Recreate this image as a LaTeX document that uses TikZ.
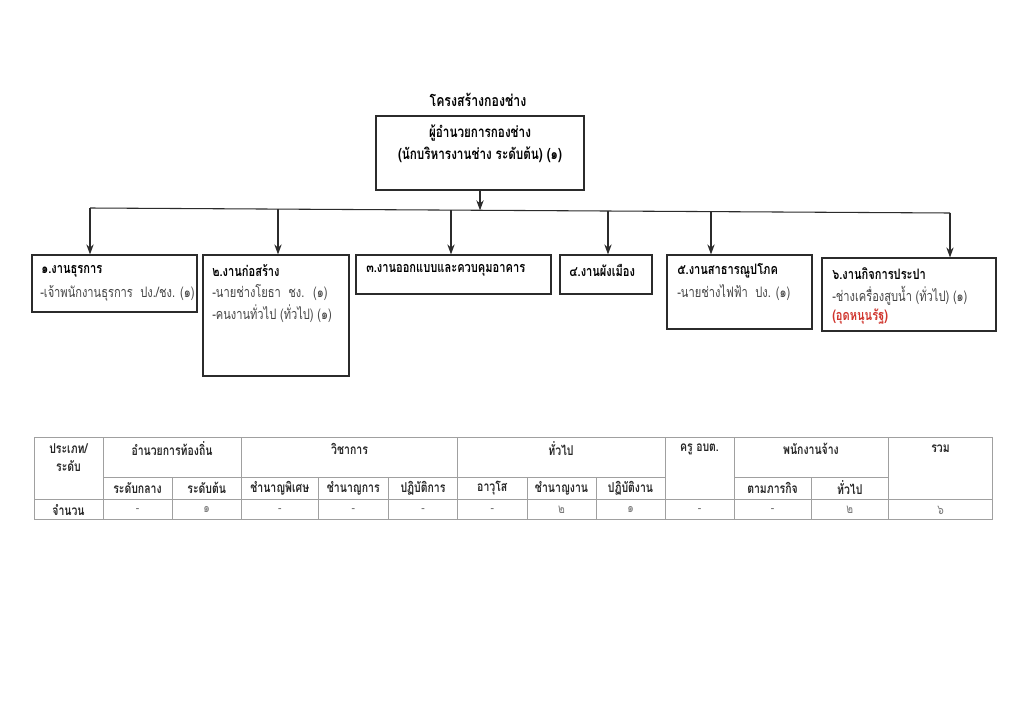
\documentclass[tikz,border=0pt]{standalone}
\usepackage{fontspec}
\setmainfont[Script=Thai, FakeStretch=0.77]{Loma}
\usetikzlibrary{arrows.meta,fit}
\definecolor{boxline}{HTML}{2B2B2B}
\definecolor{itemgray}{HTML}{444444}
\definecolor{tabline}{HTML}{A0A0A0}
\definecolor{valgray}{HTML}{7A7A7A}
\definecolor{redtxt}{HTML}{D0342C}
\tikzset{
  orgbox/.style={draw=boxline, line width=0.9pt, inner sep=0pt},
  arr/.style={draw=boxline, line width=0.8pt, -{Stealth[length=7.5pt,width=5.5pt]}},
  head/.style={font=\fontsize{10.8}{13}\selectfont\bfseries, anchor=west, inner sep=0pt},
  item/.style={font=\fontsize{10.8}{13}\selectfont, text=itemgray, anchor=west, inner sep=0pt},
  th/.style={font=\fontsize{10.2}{12}\selectfont\bfseries, text=black!85, inner sep=0pt},
  tv/.style={font=\fontsize{10}{12}\selectfont, text=valgray, inner sep=0pt},
  tl/.style={draw=tabline, line width=0.6pt}
}
\begin{document}
\begin{tikzpicture}[x=0.75pt,y=-0.75pt]
\path[use as bounding box, fill=white] (0,0) rectangle (1024,724);

% title
\node[font=\fontsize{12}{14}\selectfont\bfseries, inner sep=0pt] (title) at (478,100) {โครงสร้างกองช่าง};

% top box
\node[orgbox, fit={(376,116) (584,190)}] (top) {};
\node[font=\fontsize{11.4}{13}\selectfont\bfseries, inner sep=0pt] (topl1) at (480,133) {ผู้อำนวยการกองช่าง};
\node[font=\fontsize{11.4}{13}\selectfont\bfseries, inner sep=0pt] (topl2) at (480,155) {(นักบริหารงานช่าง ระดับต้น) (๑)};

% boxes
\node[orgbox, fit={(32,255) (197,312)}] (b1) {};
\node[orgbox, fit={(203,255) (349,376)}] (b2) {};
\node[orgbox, fit={(356,255) (551,294)}] (b3) {};
\node[orgbox, fit={(560,255) (652,294)}] (b4) {};
\node[orgbox, fit={(667,255) (812,329)}] (b5) {};
\node[orgbox, fit={(822,258) (996,331)}] (b6) {};

% bar and junctions
\coordinate (barL) at (90,208);
\coordinate (barR) at (950,213);
\coordinate (jt) at (480,210.3);
\coordinate (j1) at (90,208);
\coordinate (j2) at (278,209.1);
\coordinate (j3) at (451,210.1);
\coordinate (j4) at (608,211.0);
\coordinate (j5) at (711,211.6);
\coordinate (j6) at (950,213);
\draw[draw=boxline, line width=0.8pt] (barL) -- (barR);
\draw[arr] (top.south) -- (jt);
\draw[arr] (j1) -- (j1 |- b1.north);
\draw[arr] (j2) -- (j2 |- b2.north);
\draw[arr] (j3) -- (j3 |- b3.north);
\draw[arr] (j4) -- (j4 |- b4.north);
\draw[arr] (j5) -- (j5 |- b5.north);
\draw[arr] (j6) -- (j6 |- b6.north);

% box texts
\node[head] (h1) at (41,271) {๑.งานธุรการ};
\node[item] (i1a) at (40,293) {-เจ้าพนักงานธุรการ~ ปง./ชง. (๑)};
\node[head] (h2) at (212,271) {๒.งานก่อสร้าง};
\node[item] (i2a) at (212,293) {-นายช่างโยธา~ ชง.~ (๑)};
\node[item] (i2b) at (212,314) {-คนงานทั่วไป (ทั่วไป) (๑)};
\node[head] (h3) at (366,270) {๓.งานออกแบบและควบคุมอาคาร};
\node[head] (h4) at (569,270) {๔.งานผังเมือง};
\node[head] (h5) at (677,271) {๕.งานสาธารณูปโภค};
\node[item] (i5a) at (677,293) {-นายช่างไฟฟ้า~ ปง. (๑)};
\node[head] (h6) at (832,274) {๖.งานกิจการประปา};
\node[item] (i6a) at (832,296) {-ช่างเครื่องสูบน้ำ (ทั่วไป) (๑)};
\node[head, text=redtxt] (i6b) at (832,317) {(อุดหนุนรัฐ)};

% table lines
\draw[tl] (34,437) rectangle (992.5,519);
\draw[tl] (103,477) -- (665,477);
\draw[tl] (734,477) -- (888.5,477);
\draw[tl] (34,499) -- (992.5,499);
\foreach \x in {103,241.5,457.5,665,734,888.5} {\draw[tl] (\x,437) -- (\x,519);}
\foreach \x in {172,318,388.5,527,596,811} {\draw[tl] (\x,477) -- (\x,519);}

% table header texts
\node[th] (t1a) at (68.5,449) {ประเภท/};
\node[th] (t1b) at (68.5,466) {ระดับ};
\node[th] (t2) at (172,449) {อำนวยการท้องถิ่น};
\node[th] (t3) at (349.5,449) {วิชาการ};
\node[th] (t4) at (561,449) {ทั่วไป};
\node[th] (t5) at (699.5,449) {ครู อบต.};
\node[th] (t6) at (811,449) {พนักงานจ้าง};
\node[th] (t7) at (940.5,449) {รวม};
\foreach \x/\t [count=\i] in {137.5/ระดับกลาง, 206.75/ระดับต้น, 279.75/ชำนาญพิเศษ, 353.25/ชำนาญการ, 423/ปฏิบัติการ, 492.25/อาวุโส, 561.5/ชำนาญงาน, 630.5/ปฏิบัติงาน, 772.5/ตามภารกิจ, 849.75/ทั่วไป}
  {\node[th] (s\i) at (\x,488) {\t};}
\node[th] (cnt) at (68.5,510) {จำนวน};
\foreach \x/\t [count=\i] in {137.5/-, 206.75/๑, 279.75/-, 353.25/-, 423/-, 492.25/-, 561.5/๒, 630.5/๑, 699.5/-, 772.5/-, 849.75/๒, 940.5/๖}
  {\node[tv] (v\i) at (\x,510) {\t};}
\end{tikzpicture}
\end{document}
